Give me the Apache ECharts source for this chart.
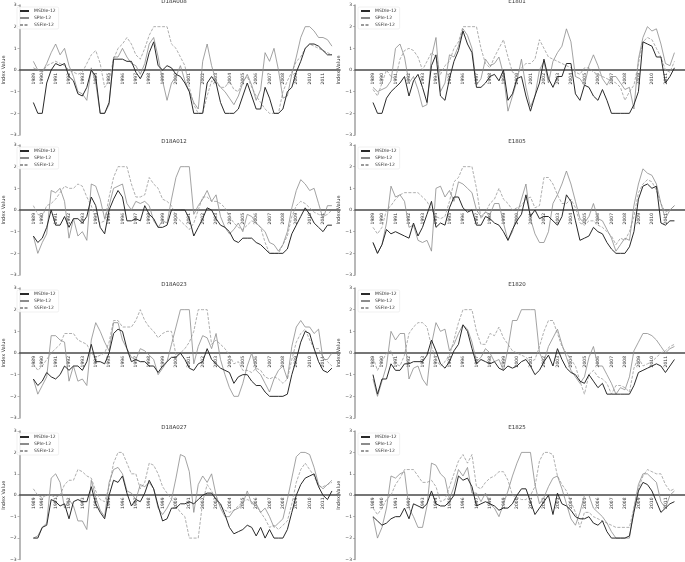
<!DOCTYPE html>
<html>
<head>
<meta charset="utf-8">
<script src="https://cdn.jsdelivr.net/npm/echarts@6/dist/echarts.min.js"></script>
<style>
  html, body { margin: 0; padding: 0; background: #fff; }
  #main { width: 685px; height: 562px; }
</style>
</head>
<body>
<div id="main"></div>
<script>
// samples every 4 months, May 1989 .. Sep 2011 (68 points)
var sampleTimes = [];
for (var k = 0; k < 68; k++) sampleTimes.push(1989 + (4 + 4 * k) / 12);

var yearTicks = ['1989','1990','1991','1992','1993','1994','1995','1996','1997','1998','1999','2000',
                 '2001','2002','2003','2004','2005','2006','2007','2008','2009','2010','2011'];
var seriesNames = ['MSDIe-12', 'SPIe-12', 'SSFIe-12'];

// ---- D18A008 ----
var d18a008Msdi = [-1.5,-2,-2,-0.6,0,0.3,0.2,0.3,-0.3,-0.5, -1.1,-1.2,-0.8,0,-0.3,-2,-2,-1.5,0.5,0.5, 0.5,0.4,0.4,-0.1,-0.4,0,0.8,1.3,0.2,0, 0.2,0.1,-0.2,-0.3,-0.6,-1.0,-2,-2,-2,-0.6, -0.3,-0.6,-1.5,-2,-2,-2,-1.8,-1.2,-0.6,-1.2, -1.8,-1.8,-0.8,-1.3,-2,-2,-1.8,-1.0,-0.8,-0.1, 0.4,1.0,1.2,1.2,1.1,0.9,0.7,0.7];
var d18a008Spi = [0.4,0.0,-0.1,0.3,0.8,1.2,0.7,1.0,0.2,-0.3, -1.0,-1.1,-1.4,0.1,-0.6,-2,-2,-1.6,0.6,0.6, 1.0,0.6,0.3,0.2,-0.2,0.3,1.2,1.5,0.6,-0.5, -1.4,-0.6,-0.3,0.2,-0.5,-1.0,-1.5,-1.8,0.4,1.2, 0.2,-0.5,-0.8,-1.0,-1.3,-1.6,-1.2,-0.6,-0.2,-0.7, -1.4,-0.9,0.8,0.4,1.0,0.0,-1.3,-1.2,-0.2,0.6, 1.5,2.0,2.0,1.8,1.5,1.5,1.4,1.1];
var d18a008Ssfi = [0.1,0.0,-0.1,0.2,0.3,0.4,0.3,0.2,0.0,-0.1, -0.2,-0.1,0.3,0.7,0.9,0.3,-0.8,-0.5,0.5,1.0, 1.2,1.5,1.2,0.7,0.5,1.0,1.6,2.0,2.0,2.0, 2.0,1.2,1.0,0.6,0.2,-0.8,-1.6,-2,-2,-1.2, -0.5,-0.6,-0.8,-0.8,-0.5,-0.9,-1.0,-0.5,-0.3,-0.8, -1.2,-1.5,-1.8,-2,-2,-2,-1.0,-0.5,-0.1,0.4, 0.6,1.0,1.2,1.1,1.0,0.9,0.8,0.7];

// ---- D18A012 ----
var d18a012Msdi = [-1.2,-1.5,-1.3,-0.8,0.0,-0.7,-0.7,-0.3,-0.8,-0.4, -0.4,-0.6,-0.3,0.6,0.2,-0.8,-1.1,0.0,0.5,0.9, 0.6,-0.5,-0.5,-0.4,-0.5,0.2,-0.2,-0.4,-0.8,-0.8, -0.7,0.0,0.0,0.0,0.0,-0.4,-1.2,-0.8,-0.4,0.1, 0.0,-0.4,-0.7,-0.8,-1.0,-1.4,-1.5,-1.3,-1.3,-1.3, -1.5,-1.6,-1.8,-2,-2,-2,-2,-1.8,-1.1,-0.7, -0.3,0.1,-0.2,-0.6,-0.8,-1.0,-0.7,-0.7];
var d18a012Spi = [-1.2,-2.0,-1.5,-1.1,0.9,0.8,1.0,0.4,-1.3,-0.4, -1.2,-1.0,-1.4,1.2,1.1,0.5,-0.4,0.2,1.0,1.1, 1.2,0.3,0.0,0.4,0.3,0.4,0.2,-0.5,-0.8,-0.5, -0.6,0.5,1.5,2.0,2.0,2.0,-0.2,0.2,0.5,0.9, 0.4,0.7,-0.3,-0.8,-1.1,-0.9,-0.6,-1.0,-0.2,-0.3, -0.6,-0.8,-1.0,-1.5,-1.6,-1.9,-1.6,-1.0,0.1,0.9, 1.4,1.2,0.9,1.0,0.3,-0.4,0.2,0.2];
var d18a012Ssfi = [0.2,-0.2,-0.3,0.2,0.3,0.5,0.8,1.1,1.0,1.0, 1.2,1.1,0.6,0.2,-0.4,-0.6,-0.5,0.6,1.5,2.0, 2.0,2.0,1.2,0.6,0.6,0.7,1.5,1.2,1.0,0.5, 0.4,0.2,-0.3,-0.5,-0.7,-0.9,-0.6,0.0,0.6,0.6, 0.4,0.4,0.3,0.1,-0.3,-0.6,-0.8,-0.9,-0.7,-0.5, -0.6,-0.8,-1.5,-2.0,-2.0,-2.0,-1.6,-1.2,-0.3,0.2, 0.4,0.3,0.1,-0.1,-0.2,-0.3,-0.2,0.0];

// ---- D18A023 ----
var d18a023Msdi = [-1.2,-1.5,-1.3,-0.9,-1.1,-1.2,-1.0,-0.6,-0.8,-0.6, -0.6,-0.8,-0.4,0.4,-0.4,-0.4,-0.5,0.0,0.9,1.1, 1.0,0.2,-0.4,-0.3,-0.4,-0.4,-0.6,-0.6,-0.9,-0.6, -0.4,-0.2,-0.2,0.0,-0.3,-0.7,-0.8,-0.5,-0.4,0.2, -0.3,-0.5,-0.7,-0.8,-0.9,-1.4,-1.1,-1.0,-1.0,-1.3, -1.5,-1.5,-1.8,-2.0,-2.0,-2.0,-2.0,-1.9,-1.0,-0.3, 0.5,1.0,0.9,0.2,-0.4,-0.8,-0.9,-0.7];
var d18a023Spi = [-1.2,-1.9,-1.5,-1.1,0.8,0.8,0.6,0.5,-1.3,-0.6, -1.3,-1.2,-1.5,0.6,1.4,1.0,0.5,0.1,1.4,1.4, 0.6,0.2,-0.2,-0.3,0.2,0.1,-0.1,-0.3,-1.0,-0.7, -0.4,0.4,1.2,2.0,2.0,2.0,-0.5,0.3,0.8,0.7, 0.2,0.9,-0.3,-1.0,-1.6,-2.0,-2.0,-1.4,-0.6,0.0, -0.8,-1.0,-1.4,-1.8,-1.2,-0.8,-0.6,-1.2,0.3,1.2, 1.5,1.2,1.2,0.9,1.1,-0.3,-0.3,0.0];
var d18a023Ssfi = [-0.5,-0.8,-0.6,-0.3,0.0,0.2,0.4,0.9,0.9,0.9, 0.6,0.5,0.4,0.0,-0.2,-0.1,0.0,0.5,1.5,1.5, 1.2,1.2,1.2,1.5,2.0,1.5,1.2,1.0,0.7,0.9, 1.0,1.0,-0.1,0.0,0.2,0.5,1.0,2.0,2.0,2.0, 0.4,0.6,0.4,0.2,-0.1,-0.5,-0.4,-0.8,-0.8,-0.9, -0.7,-0.8,-1.1,-1.2,-1.1,-1.2,-1.4,-1.2,-0.3,0.5, 0.9,1.1,0.6,0.2,0.2,-0.2,-0.4,-0.6];

// ---- D18A027 ----
var d18a027Msdi = [-2.0,-2.0,-1.5,-1.4,-0.2,-0.3,-0.5,-0.4,-1.1,-0.3, -0.2,-0.3,-0.3,0.4,-0.4,-0.8,-1.1,0.0,0.7,0.6, 0.9,0.1,-0.5,-0.2,-0.3,0.1,0.7,0.3,-0.5,-1.2, -1.1,-0.6,-0.6,-0.4,-0.4,-0.3,-0.4,-0.2,0.0,0.1, 0.1,-0.2,-0.4,-0.9,-1.5,-1.8,-1.7,-1.6,-1.4,-1.5, -1.9,-1.5,-2.0,-1.6,-2.0,-2.0,-2.0,-1.6,-0.8,0.0, 0.5,0.8,0.9,1.0,0.4,0.0,-0.2,0.2];
var d18a027Spi = [-2.0,-1.9,-1.5,-1.3,0.8,1.0,0.6,-0.6,-0.2,-0.5, -1.2,-1.2,-1.6,0.7,-0.1,-0.7,-1.0,0.6,1.2,1.3, 1.0,0.2,0.1,-0.2,0.5,0.4,0.6,0.3,-0.6,-0.9, -0.6,-0.2,0.8,1.9,1.8,1.1,-0.8,0.5,0.9,0.6, 1.0,0.0,-0.6,-1.0,-1.0,-0.7,-0.6,-0.4,0.2,-0.4, -0.4,-0.8,-0.6,-1.0,-1.5,-1.3,-1.1,-0.2,0.8,1.8, 2.0,2.0,1.9,1.3,0.5,0.3,0.5,0.7];
var d18a027Ssfi = [0.3,0.0,-0.1,0.0,0.0,-0.1,0.0,0.5,0.7,0.7, 1.2,1.1,0.9,0.8,0.2,-0.2,-0.3,0.4,1.5,2.0, 2.0,1.5,1.0,1.0,0.3,0.6,1.5,1.4,1.0,0.4, 0.1,-0.2,-0.5,-0.8,-1.0,-2.0,-2.0,-2.0,-0.3,0.5, 0.2,-0.2,-0.5,-0.7,-0.8,-0.7,-0.5,-0.3,-0.2,-0.3, -0.5,-0.8,-1.1,-1.5,-1.4,-1.6,-1.4,-1.2,-0.4,0.6, 1.2,1.5,1.2,0.9,0.4,0.4,0.5,0.6];

// ---- E1801 ----
var e1801Msdi = [-1.5,-2,-2,-1.3,-1.0,-0.8,-0.6,-0.3,-1.2,-0.5, -0.2,-0.8,-1.5,0.2,0.7,-1.2,-1.4,-0.4,0.4,0.9, 1.8,1.2,0.8,-0.8,-0.8,-0.6,-0.3,-0.2,-0.5,0.0, -1.4,-1.1,-0.4,-0.3,-1.2,-1.9,-1.2,-0.6,0.5,-0.4, -0.8,-0.3,-0.3,0.3,0.3,-1.1,-1.4,-0.7,-0.8,-1.2, -1.4,-0.9,-1.4,-2,-2,-2,-2,-2,-1.6,-1.0, 1.3,1.2,1.1,0.6,0.6,-0.6,-0.3,0.1];
var e1801Spi = [-0.8,-1.0,-0.9,-0.8,-0.5,1.0,1.2,0.6,-0.6,-0.3, -0.9,-1.7,-1.6,0.6,1.5,-1.0,-0.6,0.7,0.6,1.1, 1.9,1.6,1.0,-0.7,-0.4,0.5,0.2,0.3,0.6,-0.2, -1.9,-1.2,-0.5,0.5,-0.8,-1.7,-1.2,0.0,0.4,-0.6, 0.4,0.8,1.1,1.9,1.3,-0.3,-0.4,-0.7,0.2,0.7, 0.2,-0.4,-0.7,-0.3,-0.3,-0.6,-0.9,-0.8,-1.8,0.5, 1.5,2.0,1.8,1.9,1.2,0.3,0.2,0.8];
var e1801Ssfi = [-0.9,-1.2,-0.6,0.0,-0.3,-0.4,0.5,0.9,1.0,0.9, 0.6,0.0,0.4,0.8,0.6,-0.2,0.2,0.4,1.0,1.3, 2.0,2.0,2.0,2.0,1.0,0.3,0.1,0.6,1.0,1.4, 0.6,-0.1,-0.2,0.1,0.3,0.3,0.5,1.4,1.0,0.6, 0.5,0.4,0.3,0.2,0.1,-0.1,-0.2,0.1,0.1,-0.1, -0.2,-0.3,-0.4,-0.5,-0.6,-0.8,-1.4,-1.0,-0.7,0.3, 1.3,1.5,1.4,1.0,0.6,0.0,-0.1,0.4];

// ---- E1805 ----
var e1805Msdi = [-1.5,-2.0,-1.6,-0.9,-1.1,-1.0,-1.1,-1.2,-1.3,-0.6, -1.2,-0.8,-0.2,0.4,-0.8,-0.6,-0.7,0.1,0.6,0.6, 0.1,-0.1,0.0,-0.7,-0.7,-0.3,-0.4,-0.6,-0.7,-1.0, -1.4,-0.9,-0.5,-0.2,0.7,-0.3,0.0,-0.4,-0.3,-0.3, -0.5,-0.7,-0.3,0.7,0.4,-0.5,-1.4,-1.3,-1.2,-0.8, -1.0,-1.1,-1.5,-1.8,-2.0,-2.0,-2.0,-1.7,-1.0,0.5, 1.1,1.2,1.0,1.1,-0.6,-0.7,-0.5,-0.5];
var e1805Spi = [-1.5,-2.0,-1.6,-0.6,1.1,0.6,0.7,0.4,-0.8,-0.7, -1.4,-1.5,-1.4,-1.9,1.0,1.1,0.6,0.9,0.4,1.3, 1.2,1.0,0.8,0.0,-0.3,-0.1,-0.2,0.3,0.3,-0.6, -1.4,-1.0,-0.2,0.5,1.2,-0.4,-1.1,-1.5,-1.5,-1.0, 0.3,0.7,1.2,1.8,1.2,0.4,-0.4,-0.6,-0.3,0.3, -0.4,-0.5,-0.9,-1.3,-1.9,-1.6,-1.3,-1.4,0.2,1.2, 1.9,1.7,1.6,1.2,0.3,-0.4,0.0,0.2];
var e1805Ssfi = [-0.8,-1.1,-0.8,0.0,0.2,0.5,0.7,0.8,0.8,0.8, 0.8,0.6,0.4,0.0,-0.3,-0.4,-0.3,0.4,1.3,1.5, 2.0,2.0,2.0,1.0,-0.4,-0.1,0.3,0.5,1.0,0.5, 0.3,0.0,0.1,0.2,0.5,0.6,0.1,0.2,1.5,1.5, 1.2,0.7,0.3,0.3,0.5,0.1,-0.6,-0.7,-0.5,-0.5, -0.7,-0.8,-1.0,-1.2,-1.6,-1.3,-1.4,-1.0,-0.3,0.8, 1.2,1.4,1.3,0.9,0.3,-0.1,0.0,0.2];

// ---- E1820 ----
var e1820Msdi = [-1.0,-1.9,-1.2,-1.2,-0.5,-0.8,-0.8,-0.5,-0.5,-0.4, -0.4,-0.4,-0.1,0.6,0.1,-0.5,-0.7,-0.4,0.1,0.4, 1.3,1.0,0.2,-0.5,-0.3,-0.4,-0.5,-0.4,-0.7,-0.8, -0.6,-0.7,-0.6,-0.4,-0.3,-0.6,-1.0,-0.8,-0.4,-0.1, -0.6,0.2,-0.3,-0.7,-0.9,-1.0,-1.3,-1.4,-1.0,-1.3, -1.6,-1.4,-1.9,-1.9,-1.9,-1.9,-1.9,-1.9,-1.5,-0.9, -0.8,-0.7,-0.6,-0.5,-0.6,-0.9,-0.6,-0.3];
var e1820Spi = [-1.2,-2.0,-1.3,-0.6,1.0,0.6,0.9,0.9,-1.2,-0.7, -0.6,-1.2,-1.5,0.4,1.4,1.0,1.1,0.1,0.4,0.9, 1.3,1.1,0.5,-0.4,-0.2,0.2,0.0,-0.4,-0.3,-0.8, 0.2,1.5,1.5,2.0,2.0,2.0,2.0,0.0,-0.4,0.3, 0.7,1.1,0.4,-0.2,-0.8,-1.1,-1.4,-1.1,-0.2,0.3, -0.6,-0.6,-1.0,-1.4,-1.9,-1.6,-1.7,-1.1,0.1,0.5, 0.9,0.9,0.8,0.6,0.3,0.0,0.2,0.3];
var e1820Ssfi = [-0.2,-0.8,-0.4,0.0,0.1,-0.5,-0.6,-0.1,0.9,1.2, 1.4,1.4,1.2,0.3,-0.3,-0.6,-0.4,-0.1,0.6,1.4, 2.0,2.0,2.0,1.0,0.4,0.4,0.9,0.8,1.2,0.7, 0.4,0.1,0.0,-0.1,-0.2,-0.4,-0.3,0.3,1.0,1.5, 1.5,0.9,0.3,0.0,-0.3,-0.6,-1.3,-1.9,-1.0,-0.8, -1.1,-1.2,-1.4,-1.9,-1.5,-1.5,-1.6,-1.8,-0.7,-0.2, -0.6,-0.5,-0.4,-0.2,0.0,0.1,0.3,0.4];

// ---- E1825 ----
var e1825Msdi = [-1.0,-1.2,-1.4,-1.3,-1.1,-1.0,-1.0,-0.6,-1.1,-0.4, -0.5,-0.6,-0.4,0.2,-0.4,-0.5,-0.5,-0.3,0.0,0.9, 0.7,0.8,0.4,-0.5,-0.4,-0.3,-0.4,-0.5,-0.7,-0.6, -0.6,-0.4,0.0,0.3,0.3,-0.3,-0.9,-0.6,-0.3,0.0, -0.9,0.1,-0.4,-0.5,-0.7,-1.0,-1.1,-1.1,-1.0,-1.3, -1.4,-1.2,-1.7,-2.0,-2.0,-2.0,-2.0,-1.9,-0.8,0.2, 0.6,0.5,0.2,-0.3,-0.8,-0.6,-0.4,-0.3];
var e1825Spi = [-1.0,-2.0,-1.5,-0.6,0.9,0.8,1.0,1.1,-0.6,-1.0, -1.5,-1.5,-0.5,1.5,1.4,1.0,0.8,-0.2,0.4,1.2, 0.9,1.3,0.1,0.1,-0.3,0.1,-0.4,-0.6,-1.0,-0.4, 0.2,0.9,1.5,2.0,2.0,2.0,0.5,-0.4,-0.1,0.4, 0.8,0.9,0.3,-0.4,-1.1,-1.4,-0.8,0.0,0.0,-0.6, -0.8,-1.0,-1.3,-1.7,-2.0,-2.0,-2.0,-2.0,-0.6,0.5, 1.0,1.0,0.8,0.6,-0.3,-0.6,0.0,0.2];
var e1825Ssfi = [-0.6,-0.9,-0.6,-0.2,0.0,0.5,0.8,1.2,1.2,1.2, 0.9,0.6,0.6,0.7,0.4,-0.3,-0.2,0.4,1.0,1.6, 1.9,1.5,1.9,0.4,0.3,0.6,0.8,0.9,1.1,1.1, 0.7,0.0,-0.1,-0.2,-0.2,0.0,0.4,1.6,2.0,2.0, 1.9,0.9,0.5,0.2,-0.3,-0.8,-1.5,-0.8,-0.8,-1.0, -1.1,-1.2,-1.3,-1.4,-1.5,-1.5,-1.5,-1.5,-0.6,0.3, 0.9,1.2,1.1,1.0,1.0,0.5,0.2,0.3];

// panel table: [title, MSDIe, SPIe, SSFIe, column, row]
var panels = [
  ['D18A008', d18a008Msdi, d18a008Spi, d18a008Ssfi, 0, 0],
  ['D18A012', d18a012Msdi, d18a012Spi, d18a012Ssfi, 0, 1],
  ['D18A023', d18a023Msdi, d18a023Spi, d18a023Ssfi, 0, 2],
  ['D18A027', d18a027Msdi, d18a027Spi, d18a027Ssfi, 0, 3],
  ['E1801', e1801Msdi, e1801Spi, e1801Ssfi, 1, 0],
  ['E1805', e1805Msdi, e1805Spi, e1805Ssfi, 1, 1],
  ['E1820', e1820Msdi, e1820Spi, e1820Ssfi, 1, 2],
  ['E1825', e1825Msdi, e1825Spi, e1825Ssfi, 1, 3]
];

var colLeft = [14, 355], colWidth = [326, 330];
var colMin = [1988.3, 1988.0], colMax = [2012.27, 2012.45];
var rowTop = [5, 145, 288, 431], rowH = 130;

var tickPos = yearTicks.map(function (y, i) { return i === 0 ? sampleTimes[0] : Number(y); });

function pairs(vals) {
  return vals.map(function (v, i) { return [sampleTimes[i], v]; });
}
function minus(v) { return v < 0 ? '\u2212' + (-v) : String(v); }

var lineStyles = [
  { color: '#2a2a2a', width: 1, type: 'solid' },
  { color: '#8c8c8c', width: 0.8, type: 'solid' },
  { color: '#9a9a9a', width: 0.8, type: [3, 1.5] }
];

var grids = [], xAxes = [], yAxes = [], series = [], legends = [], titles = [];
panels.forEach(function (p, i) {
  var c = p[4], r = p[5];
  grids.push({ left: colLeft[c], top: rowTop[r], width: colWidth[c], height: rowH });
  // x axis drawn through y = 0 (middle of the -3..3 range)
  xAxes.push({
    type: 'value', gridIndex: i, min: colMin[c], max: colMax[c],
    position: 'bottom', offset: -rowH / 2,
    axisLine: { onZero: false, lineStyle: { color: '#4a4a4a', width: 1.5 } },
    axisTick: { show: false },
    splitLine: { show: false },
    axisLabel: {
      customValues: tickPos, rotate: 90, fontSize: 4.5, color: '#333', margin: 3,
      formatter: function (v) {
        var best = 0;
        tickPos.forEach(function (t, j) { if (Math.abs(t - v) < Math.abs(tickPos[best] - v)) best = j; });
        return yearTicks[best];
      }
    }
  });
  yAxes.push({
    type: 'value', gridIndex: i, min: -3, max: 3, interval: 1,
    name: 'Index Value', nameLocation: 'middle', nameGap: 9,
    nameTextStyle: { fontSize: 5, color: '#333' },
    axisLine: { show: true, onZero: false, lineStyle: { color: '#a0a0a0', width: 1.5 } },
    axisTick: { show: true, length: 2, lineStyle: { color: '#777', width: 0.5 } },
    axisLabel: { fontSize: 4.5, color: '#333', margin: 3, formatter: minus },
    splitLine: { show: false }
  });
  [p[1], p[2], p[3]].forEach(function (vals, s) {
    series.push({
      type: 'line', name: seriesNames[s], xAxisIndex: i, yAxisIndex: i,
      data: pairs(vals), symbol: 'none', showSymbol: false,
      lineStyle: lineStyles[s], itemStyle: { color: lineStyles[s].color },
      z: 3 - s, animation: false
    });
  });
  legends.push({
    left: colLeft[c] + 3, top: rowTop[r] + 2, orient: 'vertical',
    data: seriesNames, selectedMode: false,
    itemWidth: 9, itemHeight: 4, itemGap: 2,
    itemStyle: { opacity: 0 },
    padding: [1.5, 3, 1.5, 2],
    textStyle: { fontSize: 4.5, color: '#333' },
    borderColor: '#e0e0e0', borderWidth: 0.5, borderRadius: 1.5,
    backgroundColor: 'rgba(255,255,255,0.85)'
  });
  titles.push({
    type: 'text',
    x: colLeft[c] + colWidth[c] / 2 - 3,
    y: rowTop[r] - 3,
    style: { text: p[0], fill: '#333', font: '5.5px "DejaVu Sans"', align: 'center', verticalAlign: 'middle' }
  });
});

var chart = echarts.init(document.getElementById('main'));
chart.setOption({
  animation: false,
  backgroundColor: '#fff',
  textStyle: { fontFamily: 'DejaVu Sans' },
  grid: grids,
  xAxis: xAxes,
  yAxis: yAxes,
  legend: legends,
  graphic: titles,
  series: series
});
</script>
</body>
</html>
